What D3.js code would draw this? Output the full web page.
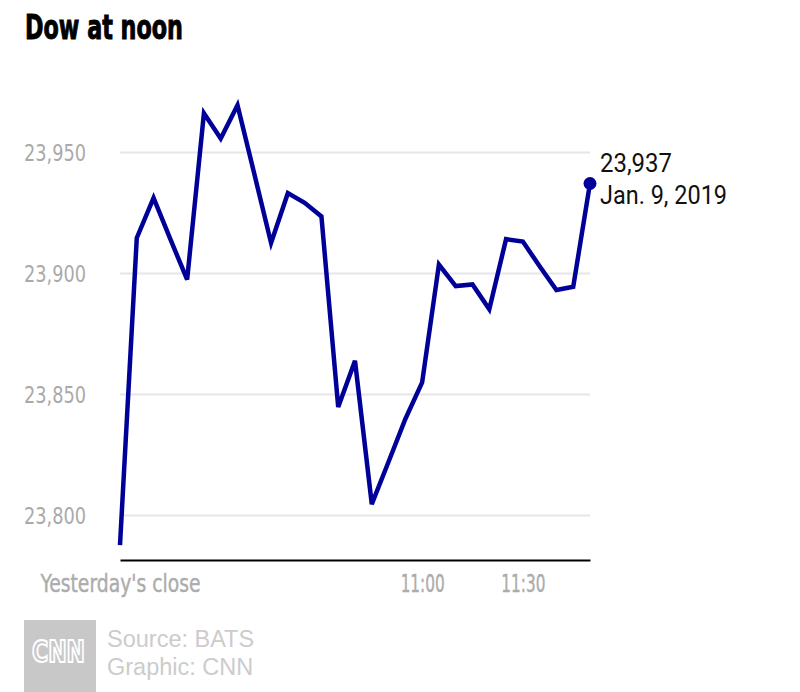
<!DOCTYPE html>
<html>
<head>
<meta charset="utf-8">
<script src="https://cdn.jsdelivr.net/npm/d3@7"></script>
<style>
  body { margin: 0; background: #fff; }
  svg { display: block; }
</style>
</head>
<body>
<svg id="chart" width="800" height="692"></svg>
<script>
// ---- data ----
const times = ["9:30","9:35","9:40","9:45","9:50","9:55","10:00","10:05","10:10","10:15",
  "10:20","10:25","10:30","10:35","10:40","10:45","10:50","10:55","11:00","11:05",
  "11:10","11:15","11:20","11:25","11:30","11:35","11:40","11:45","11:50"];
const values = [23787.6,23914.5,23931,23914,23897.3,23966,23955.6,23969.3,23941,23912.4,
  23933,23929,23923.4,23844.6,23863.7,23804.5,23822,23839.7,23854.8,23903.5,
  23894.6,23895.3,23885,23914,23913,23902.8,23893,23894.3,23937];
const yTicks = [23800, 23850, 23900, 23950];
const xTicks = ["9:30", "11:00", "11:30"];
const xTickLabels = ["Yesterday's close", "11:00", "11:30"];
const endLabel = ["23,937", "Jan. 9, 2019"];
const title = "Dow at noon";
const credits = ["Source: BATS", "Graphic: CNN"];

// ---- helpers ----
const parse = t => { const [h, m] = t.split(":").map(Number); return new Date(2019, 0, 9, h, m); };
const data = times.map((t, i) => ({ t: parse(t), v: values[i] }));

const svg = d3.select("#chart");
const x = d3.scaleTime().domain([parse("9:30"), parse("11:50")]).range([120, 590]);
const y = d3.scaleLinear().domain([23781, 23981]).range([561, 77]);

const condensed = "'DejaVu Sans Condensed', sans-serif";
const fit = "spacingAndGlyphs";

// title
svg.append("text").attr("x", 25).attr("y", 39)
  .attr("font-family", condensed).attr("font-weight", "bold").attr("font-size", 33)
  .attr("textLength", 158).attr("lengthAdjust", fit)
  .attr("fill", "#000").attr("stroke", "#000").attr("stroke-width", 0.9).text(title);

// y grid + labels
const yAxis = svg.append("g").attr("transform", "translate(120,0)")
  .call(d3.axisLeft(y).tickValues(yTicks).tickSize(-470).tickFormat(d3.format(",")));
yAxis.select(".domain").remove();
yAxis.selectAll(".tick line").attr("stroke", "#e6e6e6").attr("stroke-width", 2);
yAxis.selectAll(".tick text").attr("x", -34).attr("dy", "0.36em")
  .attr("font-family", condensed).attr("font-size", 23).attr("fill", "#aaaaaa")
  .attr("textLength", 62).attr("lengthAdjust", fit);

// x axis
const xAxis = svg.append("g").attr("transform", "translate(0,560)")
  .call(d3.axisBottom(x).tickValues(xTicks.map(parse)).tickSize(0)
    .tickFormat((d, i) => xTickLabels[i]));
xAxis.select(".domain").attr("stroke", "#000").attr("stroke-width", 2);
xAxis.selectAll(".tick text").attr("y", 32).attr("dy", 0)
  .attr("font-family", condensed).attr("font-size", 24).attr("fill", "#acacac")
  .attr("stroke", "#acacac").attr("stroke-width", 0.4)
  .attr("textLength", (d, i) => i === 0 ? 160 : 44).attr("lengthAdjust", fit);

// line
const line = d3.line().x(d => x(d.t)).y(d => y(d.v));
svg.append("path").datum(data).attr("d", line)
  .attr("fill", "none").attr("stroke", "#000099").attr("stroke-width", 4.5)
  .attr("stroke-linejoin", "miter");

// end dot + label
const last = data[data.length - 1];
svg.append("circle").attr("cx", x(last.t)).attr("cy", y(last.v)).attr("r", 6.5).attr("fill", "#000099");
svg.append("text").attr("x", 600).attr("y", y(last.v) - 11)
  .attr("font-family", "Roboto, sans-serif").attr("font-size", 26).attr("fill", "#111")
  .attr("textLength", 72).attr("lengthAdjust", fit).text(endLabel[0]);
svg.append("text").attr("x", 600).attr("y", y(last.v) + 21)
  .attr("font-family", "Roboto, sans-serif").attr("font-size", 26).attr("fill", "#111")
  .attr("textLength", 127).attr("lengthAdjust", fit).text(endLabel[1]);

// footer logo
svg.append("rect").attr("x", 24).attr("y", 620).attr("width", 72).attr("height", 72).attr("fill", "#c8c8c8");
svg.append("text").attr("x", 32).attr("y", 662)
  .attr("font-family", condensed).attr("font-weight", "bold").attr("font-size", 30)
  .attr("textLength", 53).attr("lengthAdjust", fit)
  .attr("fill", "none").attr("stroke", "#fff").attr("stroke-width", 2).text("CNN");
svg.append("text").attr("x", 107).attr("y", 647)
  .attr("font-family", "'Liberation Sans', Arial, sans-serif").attr("font-size", 23.5).attr("fill", "#cccccc").text(credits[0]);
svg.append("text").attr("x", 107).attr("y", 675)
  .attr("font-family", "'Liberation Sans', Arial, sans-serif").attr("font-size", 23.5).attr("fill", "#cccccc").text(credits[1]);
</script>
</body>
</html>
